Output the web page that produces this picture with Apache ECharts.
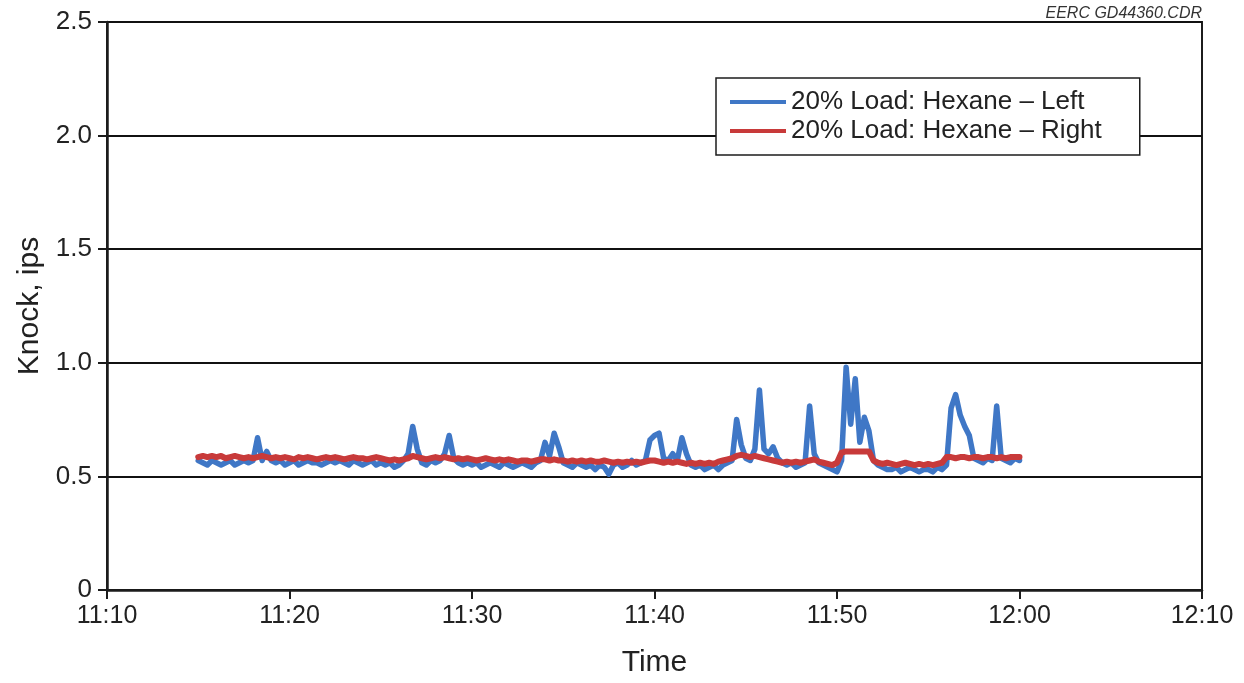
<!DOCTYPE html>
<html>
<head>
<meta charset="utf-8">
<title>Knock, 20% Load: Hexane</title>
<script src="https://cdn.jsdelivr.net/npm/echarts@6/dist/echarts.min.js"></script>
<style>
  html, body { margin: 0; padding: 0; background: #fff; }
  #chart { width: 1244px; height: 683px; }
</style>
</head>
<body>
<div id="chart"></div>
<script>
// Sampling: minutes after 11:00, one reading every 15 s from 11:15 to 12:00
const sampleStartMin = 15;
const sampleStepMin = 0.25;

// Axis ticks (minutes after 11:00) and their labels
const xTicks = [10, 20, 30, 40, 50, 60, 70];
const xTickLabels = ['11:10', '11:20', '11:30', '11:40', '11:50', '12:00', '12:10'];
const yTicks = [0, 0.5, 1.0, 1.5, 2.0, 2.5];
const yTickLabels = ['0', '0.5', '1.0', '1.5', '2.0', '2.5'];

const seriesNames = ['20% Load: Hexane \u2013 Left', '20% Load: Hexane \u2013 Right'];

// Knock (ips), left bank
const knockLeft = [
  0.57, 0.56, 0.55, 0.57,   // 11:15
  0.56, 0.55, 0.56, 0.57,   // 11:16
  0.55, 0.56, 0.57, 0.56,   // 11:17
  0.57, 0.67, 0.57, 0.61,   // 11:18
  0.57, 0.56, 0.57, 0.55,   // 11:19
  0.56, 0.57, 0.55, 0.56,   // 11:20
  0.57, 0.56, 0.56, 0.55,   // 11:21
  0.56, 0.57, 0.56, 0.57,   // 11:22
  0.56, 0.55, 0.57, 0.56,   // 11:23
  0.55, 0.56, 0.57, 0.55,   // 11:24
  0.56, 0.55, 0.56, 0.54,   // 11:25
  0.55, 0.57, 0.60, 0.72,   // 11:26
  0.62, 0.56, 0.55, 0.57,   // 11:27
  0.56, 0.57, 0.60, 0.68,   // 11:28
  0.58, 0.56, 0.55, 0.56,   // 11:29
  0.55, 0.56, 0.54, 0.55,   // 11:30
  0.56, 0.55, 0.54, 0.56,   // 11:31
  0.55, 0.54, 0.55, 0.56,   // 11:32
  0.55, 0.54, 0.56, 0.57,   // 11:33
  0.65, 0.59, 0.69, 0.63,   // 11:34
  0.56, 0.55, 0.54, 0.56,   // 11:35
  0.55, 0.54, 0.55, 0.53,   // 11:36
  0.55, 0.54, 0.51, 0.55,   // 11:37
  0.56, 0.54, 0.55, 0.57,   // 11:38
  0.55, 0.56, 0.57, 0.66,   // 11:39
  0.68, 0.69, 0.58, 0.57,   // 11:40
  0.60, 0.57, 0.67, 0.60,   // 11:41
  0.55, 0.54, 0.55, 0.53,   // 11:42
  0.54, 0.55, 0.53, 0.55,   // 11:43
  0.56, 0.57, 0.75, 0.64,   // 11:44
  0.58, 0.57, 0.62, 0.88,   // 11:45
  0.62, 0.60, 0.63, 0.58,   // 11:46
  0.56, 0.55, 0.56, 0.54,   // 11:47
  0.55, 0.56, 0.81, 0.60,   // 11:48
  0.56, 0.55, 0.54, 0.53,   // 11:49
  0.52, 0.57, 0.98, 0.73,   // 11:50
  0.93, 0.65, 0.76, 0.70,   // 11:51
  0.57, 0.55, 0.54, 0.53,   // 11:52
  0.53, 0.54, 0.52, 0.53,   // 11:53
  0.54, 0.53, 0.52, 0.53,   // 11:54
  0.53, 0.52, 0.54, 0.53,   // 11:55
  0.55, 0.80, 0.86, 0.77,   // 11:56
  0.72, 0.68, 0.58, 0.57,   // 11:57
  0.56, 0.58, 0.57, 0.81,   // 11:58
  0.58, 0.57, 0.56, 0.58,   // 11:59
  0.57                      // 12:00
];

// Knock (ips), right bank
const knockRight = [
  0.585, 0.59, 0.585, 0.59,    // 11:15
  0.585, 0.59, 0.58, 0.585,    // 11:16
  0.59, 0.585, 0.58, 0.585,    // 11:17
  0.58, 0.585, 0.59, 0.585,    // 11:18
  0.58, 0.585, 0.58, 0.585,    // 11:19
  0.58, 0.575, 0.585, 0.58,    // 11:20
  0.585, 0.58, 0.575, 0.58,    // 11:21
  0.585, 0.58, 0.585, 0.58,    // 11:22
  0.575, 0.58, 0.585, 0.58,    // 11:23
  0.58, 0.575, 0.58, 0.585,    // 11:24
  0.58, 0.575, 0.57, 0.575,    // 11:25
  0.57, 0.575, 0.58, 0.59,     // 11:26
  0.585, 0.58, 0.575, 0.58,    // 11:27
  0.585, 0.58, 0.585, 0.58,    // 11:28
  0.575, 0.58, 0.575, 0.58,    // 11:29
  0.575, 0.57, 0.575, 0.58,    // 11:30
  0.575, 0.57, 0.575, 0.57,    // 11:31
  0.575, 0.57, 0.565, 0.57,    // 11:32
  0.57, 0.565, 0.57, 0.575,    // 11:33
  0.575, 0.57, 0.575, 0.57,    // 11:34
  0.57, 0.565, 0.57, 0.565,    // 11:35
  0.57, 0.565, 0.57, 0.565,    // 11:36
  0.565, 0.57, 0.565, 0.56,    // 11:37
  0.565, 0.56, 0.565, 0.56,    // 11:38
  0.565, 0.56, 0.565, 0.57,    // 11:39
  0.57, 0.565, 0.56, 0.565,    // 11:40
  0.56, 0.565, 0.56, 0.555,    // 11:41
  0.56, 0.555, 0.56, 0.555,    // 11:42
  0.56, 0.555, 0.565, 0.57,    // 11:43
  0.575, 0.58, 0.59, 0.595,    // 11:44
  0.59, 0.585, 0.59, 0.585,    // 11:45
  0.58, 0.575, 0.57, 0.565,    // 11:46
  0.56, 0.565, 0.56, 0.565,    // 11:47
  0.56, 0.565, 0.57, 0.575,    // 11:48
  0.565, 0.56, 0.555, 0.55,    // 11:49
  0.56, 0.605, 0.61, 0.61,     // 11:50
  0.61, 0.61, 0.61, 0.61,      // 11:51
  0.57, 0.56, 0.555, 0.56,     // 11:52
  0.555, 0.55, 0.555, 0.56,    // 11:53
  0.555, 0.55, 0.555, 0.55,    // 11:54
  0.555, 0.55, 0.555, 0.56,    // 11:55
  0.585, 0.585, 0.58, 0.585,   // 11:56
  0.585, 0.58, 0.585, 0.585,   // 11:57
  0.58, 0.585, 0.585, 0.58,    // 11:58
  0.585, 0.58, 0.585, 0.585,   // 11:59
  0.585                        // 12:00
];

const toPairs = (values) =>
  values.map((v, i) => [sampleStartMin + i * sampleStepMin, v]);

const axisColor = '#1c1c1c';
const labelColor = '#222';
const fontFamily = '"Liberation Sans", Arial, Helvetica, sans-serif';

const chart = echarts.init(document.getElementById('chart'), null, { renderer: 'canvas' });

chart.setOption({
  backgroundColor: '#ffffff',
  animation: false,
  textStyle: { fontFamily: fontFamily },
  grid: {
    left: 107, right: 42, top: 22, bottom: 93,
    show: true,
    borderColor: axisColor,
    borderWidth: 2,
    backgroundColor: 'transparent'
  },
  graphic: [{
    type: 'text',
    right: 42,
    top: 6,
    style: {
      text: 'EERC GD44360.CDR',
      fontFamily: fontFamily,
      fontStyle: 'italic',
      fontSize: 16,
      fill: '#333'
    }
  }],
  legend: {
    orient: 'vertical',
    left: 716,
    top: 78,
    padding: [11, 38, 11, 14],
    itemGap: 3,
    itemWidth: 56,
    itemHeight: 4,
    icon: 'rect',
    backgroundColor: '#fff',
    borderColor: axisColor,
    borderWidth: 1.5,
    borderRadius: 0,
    textStyle: { fontSize: 26, color: labelColor, fontFamily: fontFamily, lineHeight: 26 },
    data: seriesNames
  },
  xAxis: {
    type: 'value',
    min: xTicks[0],
    max: xTicks[xTicks.length - 1],
    interval: 10,
    name: 'Time',
    nameLocation: 'middle',
    nameGap: 58,
    nameTextStyle: { fontSize: 30, color: labelColor, fontFamily: fontFamily },
    axisLine: { show: true, onZero: false, lineStyle: { color: axisColor, width: 2.5 } },
    axisTick: { show: true, inside: false, length: 9, lineStyle: { color: axisColor, width: 2 } },
    axisLabel: {
      fontSize: 25, color: labelColor, margin: 14,
      formatter: (v) => xTickLabels[xTicks.indexOf(v)] ?? ''
    },
    splitLine: { show: false }
  },
  yAxis: {
    type: 'value',
    min: yTicks[0],
    max: yTicks[yTicks.length - 1],
    interval: 0.5,
    name: 'Knock, ips',
    nameLocation: 'middle',
    nameGap: 62,
    nameRotate: 90,
    nameTextStyle: { fontSize: 30, color: labelColor, fontFamily: fontFamily },
    axisLine: { show: true, lineStyle: { color: axisColor, width: 2.5 } },
    axisTick: { show: true, inside: false, length: 9, lineStyle: { color: axisColor, width: 2 } },
    axisLabel: {
      fontSize: 26, color: labelColor, margin: 15,
      formatter: (v) => {
        const i = yTicks.findIndex((t) => Math.abs(t - v) < 1e-9);
        return i >= 0 ? yTickLabels[i] : '';
      }
    },
    splitLine: { show: true, lineStyle: { color: '#111', width: 2 } }
  },
  series: [
    {
      name: seriesNames[0],
      type: 'line',
      data: toPairs(knockLeft),
      showSymbol: false,
      symbol: 'none',
      color: '#3f77c6',
      lineStyle: { width: 5.5, color: '#3f77c6', join: 'round', cap: 'round' },
      z: 2
    },
    {
      name: seriesNames[1],
      type: 'line',
      data: toPairs(knockRight),
      showSymbol: false,
      symbol: 'none',
      color: '#c83a3a',
      lineStyle: { width: 6, color: '#c83a3a', join: 'round', cap: 'round' },
      z: 3
    }
  ]
});
</script>
</body>
</html>
